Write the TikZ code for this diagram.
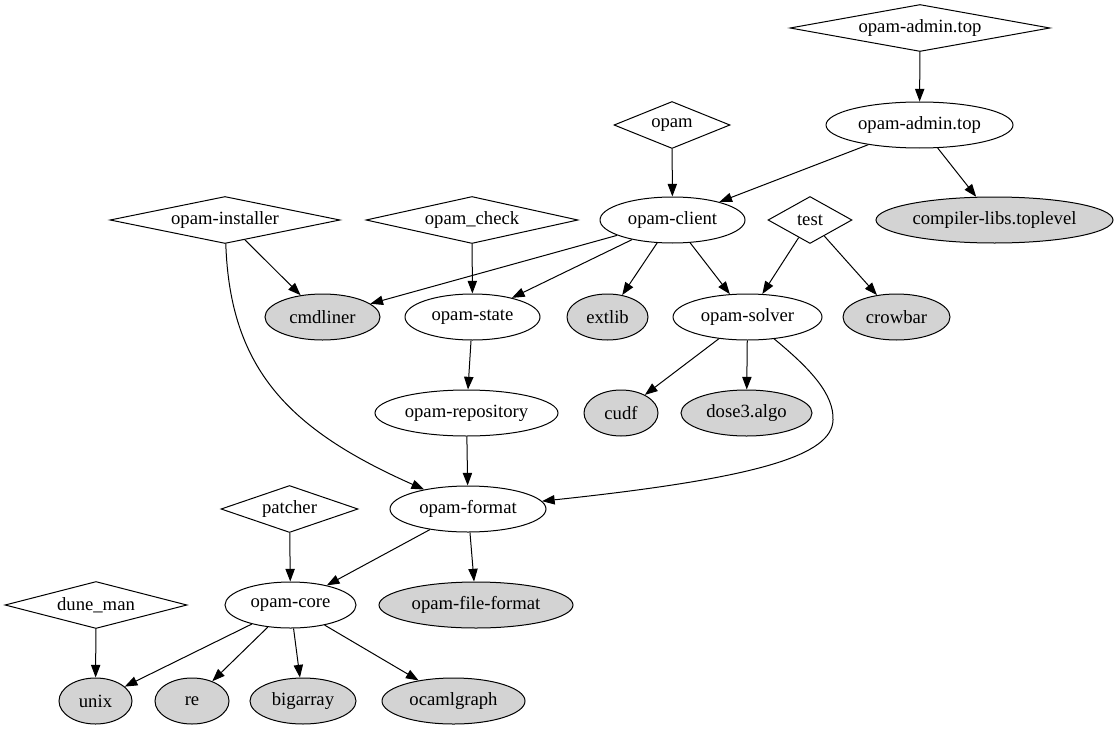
\documentclass[tikz,border=0pt]{standalone}
\usepackage{fontspec}
\setmainfont{Liberation Serif}
\usetikzlibrary{shapes.geometric,arrows.meta}
\definecolor{gvgrey}{HTML}{D3D3D3}
\tikzset{
  base/.style={draw=black,line width=0.75pt,inner sep=0pt,font=\fontsize{14pt}{16pt}\selectfont},
  dia/.style={base,diamond,aspect=4,minimum height=35.25pt},
  ell/.style={base,ellipse,minimum height=34.5pt},
  gell/.style={ell,fill=gvgrey},
  edge/.style={line width=0.75pt,-{Triangle[length=9.5pt,width=7pt]}}
}
\begin{document}
\begin{tikzpicture}[x=0.75pt,y=-0.75pt]
\useasboundingbox (0,0) rectangle (1119,731);
% diamonds
\node[dia,aspect=5,minimum width=195pt] (dadmin) at (920,28) {opam-admin.top};
\node[dia,aspect=3,minimum width=87pt] (dopam) at (672,125) {opam};
\node[dia,minimum width=172.5pt] (dinst) at (225,220) {opam-installer};
\node[dia,minimum width=159pt] (dcheck) at (472,220) {opam\_check};
\node[dia,aspect=2,minimum width=63pt] (dtest) at (810,220) {test};
\node[dia,aspect=3,minimum width=102.75pt] (dpatch) at (289.5,509) {patcher};
\node[dia,minimum width=136.5pt] (ddune) at (96,605) {dune\_man};
% white ellipses
\node[ell,minimum width=140.25pt] (admin) at (919.5,125) {opam-admin.top};
\node[ell,minimum width=108.75pt] (client) at (672.5,220) {opam-client};
\node[ell,minimum width=101.25pt] (state) at (472.5,317) {opam-state};
\node[ell,minimum width=111.75pt] (solver) at (747.5,317) {opam-solver};
\node[ell,minimum width=137.25pt] (repo) at (466.5,413) {opam-repository};
\node[ell,minimum width=117pt] (format) at (468,509) {opam-format};
\node[ell,minimum width=98.25pt] (core) at (290.5,605) {opam-core};
% grey ellipses
\node[gell,minimum width=177.75pt] (complib) at (994.5,220) {compiler-libs.toplevel};
\node[gell,minimum width=86.25pt] (cmdliner) at (322.5,317) {cmdliner};
\node[gell,minimum width=60.75pt] (extlib) at (607.5,317) {extlib};
\node[gell,minimum width=80.25pt] (crowbar) at (896.5,317) {crowbar};
\node[gell,minimum width=55.5pt] (cudf) at (621,413) {cudf};
\node[gell,minimum width=98.25pt] (dose) at (746.5,413) {dose3.algo};
\node[gell,minimum width=145.5pt] (fileformat) at (476,605) {opam-file-format};
\node[gell,minimum width=54.75pt] (unix) at (95.5,701) {unix};
\node[gell,minimum width=55.5pt] (re) at (192,701) {re};
\node[gell,minimum width=79.5pt] (bigarray) at (303,701) {bigarray};
\node[gell,minimum width=107.25pt] (ocamlgraph) at (453.5,701) {ocamlgraph};
% edges
\draw[edge] (dadmin) -- (admin);
\draw[edge] (admin) -- (client);
\draw[edge] (admin) -- (complib);
\draw[edge] (dopam) -- (client);
\draw[edge] (client) -- (cmdliner);
\draw[edge] (client) -- (state);
\draw[edge] (client) -- (extlib);
\draw[edge] (client) -- (solver);
\draw[edge] (dtest) -- (solver);
\draw[edge] (dtest) -- (crowbar);
\draw[edge] (dinst) -- (cmdliner);
\draw[edge] (dinst) .. controls (230,370) and (290,430) .. (format);
\draw[edge] (dcheck) -- (state);
\draw[edge] (state) -- (repo);
\draw[edge] (solver) -- (cudf);
\draw[edge] (solver) -- (dose);
\coordinate (sbend) at (833,420);
\draw[edge] (solver) .. controls (812,370) and (834,395) .. (sbend)
  .. controls (832,455) and (760,478) .. (format);
\draw[edge] (repo) -- (format);
\draw[edge] (format) -- (core);
\draw[edge] (format) -- (fileformat);
\draw[edge] (dpatch) -- (core);
\draw[edge] (ddune) -- (unix);
\draw[edge] (core) -- (unix);
\draw[edge] (core) -- (re);
\draw[edge] (core) -- (bigarray);
\draw[edge] (core) -- (ocamlgraph);
\end{tikzpicture}
\end{document}
